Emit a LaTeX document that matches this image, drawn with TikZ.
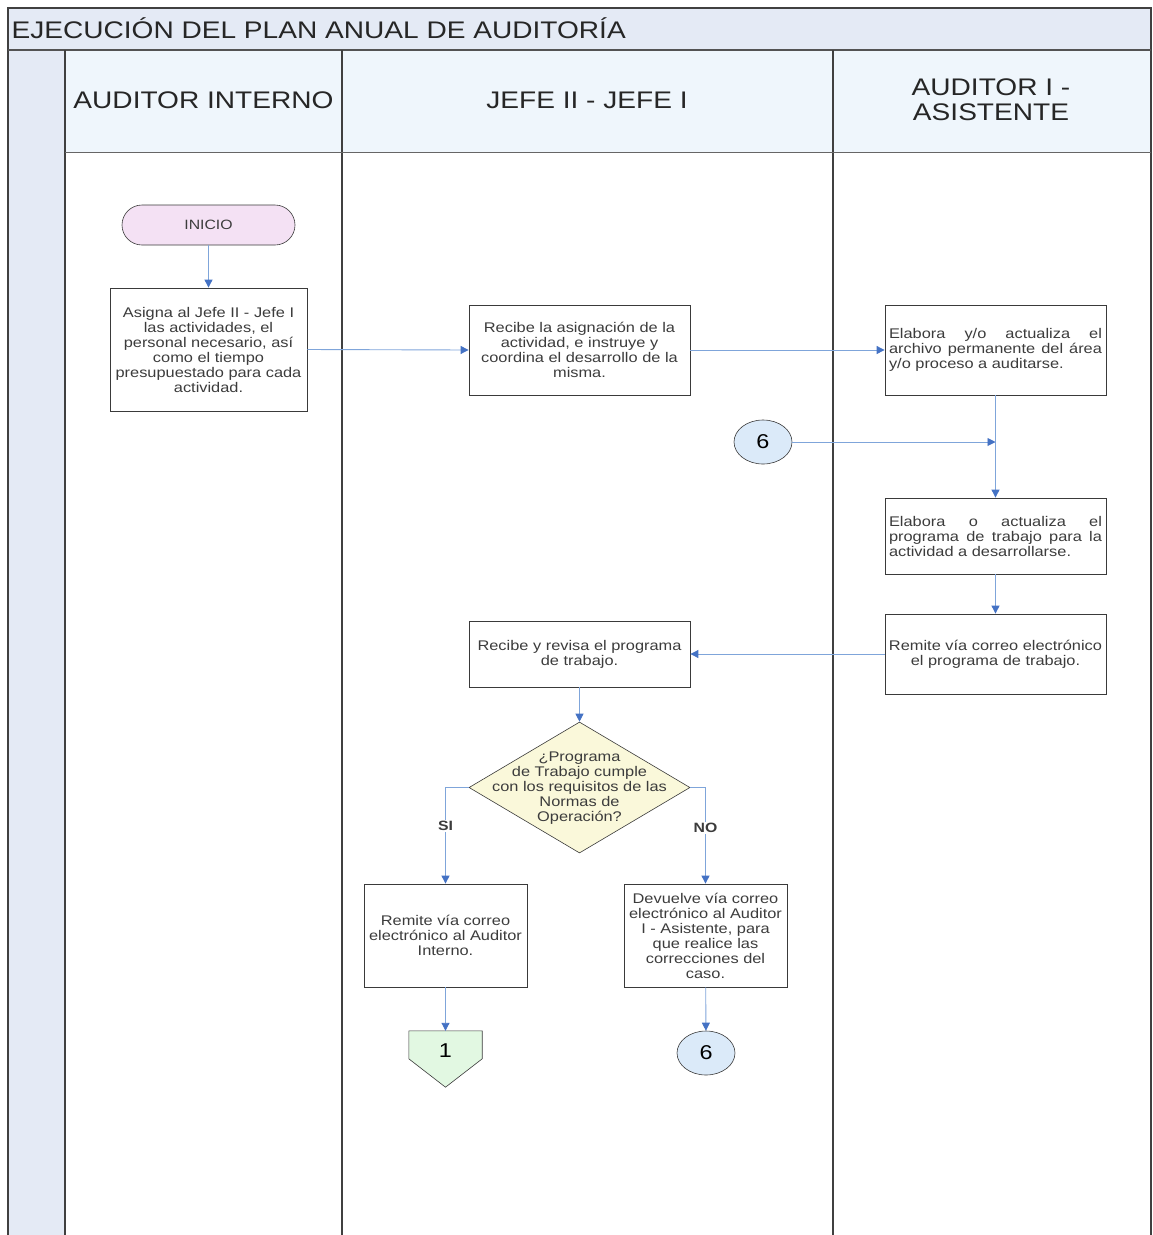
\documentclass[tikz,border=0pt]{standalone}
\usepackage{fontspec}
\setmainfont{Liberation Sans}[FakeStretch=1.17]
\usetikzlibrary{arrows.meta,shapes.geometric,calc}

\definecolor{titlebg}{HTML}{E4EAF5}
\definecolor{headbg}{HTML}{EFF6FC}
\definecolor{gridline}{HTML}{404040}
\definecolor{boxline}{HTML}{3A3A3A}
\definecolor{flowline}{HTML}{7FA5DA}
\definecolor{flowtip}{HTML}{4472C4}
\definecolor{startfill}{HTML}{F4E1F4}
\definecolor{decfill}{HTML}{FAF8DA}
\definecolor{refill}{HTML}{DBEAF9}
\definecolor{pagefill}{HTML}{E2F8E2}
\definecolor{txt}{HTML}{3C3C3C}

\tikzset{
  lane/.style={draw=gridline, line width=1.2pt},
  procbox/.style={draw=boxline, fill=white, line width=0.8pt, inner sep=3pt,
    align=center, text=txt, font=\fontsize{14}{15}\selectfont},
  flow/.style={draw=flowline, line width=0.9pt,
    -{Triangle[length=8pt,width=8pt,color=flowtip]}},
  refcircle/.style={ellipse, draw=boxline, fill=refill, line width=0.6pt,
    minimum width=58pt, minimum height=44pt, inner sep=0pt,
    font=\fontsize{20}{22}\selectfont},
  answer/.style={fill=white, inner sep=1pt, font=\bfseries\fontsize{13.5}{15}\selectfont, text=txt},
  headtext/.style={font=\fontsize{24}{26}\selectfont, align=center, text=black!85}
}

\begin{document}
\begin{tikzpicture}[x=1pt,y=-1pt]
\useasboundingbox (0,0) rectangle (1152,1235);

% swimlane frame
\fill[titlebg] (8,8) rectangle (1151,50);
\fill[titlebg] (8,50) rectangle (65,1240);
\fill[headbg] (65,50) rectangle (1151,152);
\draw[lane] (8,1240) -- (8,8) -- (1151,8) -- (1151,1240);
\draw[draw=gridline!90, line width=2pt] (8,50) -- (1151,50);
\draw[lane] (65,50) -- (65,1240);
\draw[lane] (342,50) -- (342,1240);
\draw[lane] (833,50) -- (833,1240);
\draw[draw=gridline!80, line width=1pt] (65,152) -- (1151,152);

\node[anchor=west, font=\fontsize{24}{26}\selectfont, text=black!85] (title) at (8,28)
  {EJECUCIÓN DEL PLAN ANUAL DE AUDITORÍA};
\node[headtext] (h1) at (203.5,100) {AUDITOR INTERNO};
\node[headtext] (h2) at (587,100) {JEFE II - JEFE I};
\node[headtext] (h3) at (991,100) {AUDITOR I -\\[-1pt]ASISTENTE};

% flow nodes
\node[draw=boxline, fill=startfill, line width=0.6pt, rounded corners=20pt,
  minimum width=173pt, minimum height=40pt, text=txt,
  font=\fontsize{13.5}{15}\selectfont] (ini) at (208.5,225) {INICIO};

\node[procbox, minimum width=197pt, minimum height=123pt] (A) at (208.5,349.5)
  {Asigna al Jefe II - Jefe I\\las actividades, el\\personal necesario, así\\como el tiempo\\presupuestado para cada\\actividad.};

\node[procbox, minimum width=221pt, minimum height=90pt] (B) at (579.5,350)
  {Recibe la asignación de la\\actividad, e instruye y\\coordina el desarrollo de la\\misma.};

\node[procbox, minimum width=221pt, minimum height=90pt, align=left] (C) at (995.5,350)
  {\makebox[213pt][s]{Elabora y/o actualiza el}\\\makebox[213pt][s]{archivo permanente del área}\\y/o proceso a auditarse.};

\node[refcircle] (r1) at (763,442) {6};
\coordinate (j) at (C.south |- r1.east);

\node[procbox, minimum width=221pt, minimum height=76pt, align=left] (D) at (995.5,536)
  {\makebox[213pt][s]{Elabora o actualiza el}\\\makebox[213pt][s]{programa de trabajo para la}\\actividad a desarrollarse.};

\node[procbox, minimum width=221pt, minimum height=80pt] (E) at (995.5,654)
  {Remite vía correo electrónico\\el programa de trabajo.};

\node[procbox, minimum width=221pt, minimum height=66pt] (F) at (579.5,654)
  {Recibe y revisa el programa\\de trabajo.};

\node[diamond, draw=boxline, fill=decfill, line width=0.6pt, aspect=1.69,
  minimum width=221pt, minimum height=131pt, inner sep=0pt] (Q) at (579.5,787.5) {};
\node[align=center, text=txt, font=\fontsize{14}{15}\selectfont] (Qt) at (579.5,788)
  {¿Programa\\de Trabajo cumple\\con los requisitos de las\\Normas de\\Operación?};

\node[procbox, minimum width=163pt, minimum height=103pt] (G) at (445.5,935.5)
  {Remite vía correo\\electrónico al Auditor\\Interno.};

\node[procbox, minimum width=163pt, minimum height=103pt] (H) at (705.5,935.5)
  {Devuelve vía correo\\electrónico al Auditor\\I - Asistente, para\\que realice las\\correcciones del\\caso.};

% off-page reference
\node[minimum width=73pt, minimum height=56pt, inner sep=0pt] (P) at (445.5,1059) {};
\draw[draw=boxline, fill=pagefill, line width=0.6pt]
  (P.north west) -- (P.north east) -- ($(P.north east)+(0,28)$) -- (P.south)
  -- ($(P.north west)+(0,28)$) -- cycle;
\node[font=\fontsize{20}{22}\selectfont] (Pt) at (445.5,1051) {1};

\node[refcircle] (r2) at (706,1053) {6};

% connectors
\draw[flow] (ini) -- (A);
\draw[flow] (A.east) -- (B.west);
\draw[flow] (B) -- (C);
\draw[flow] (r1) -- (j);
\draw[flow] (C) -- (D);
\draw[flow] (D) -- (E);
\draw[flow] (E) -- (F);
\draw[flow] (F) -- (Q);
\draw[flow] (Q.west) -| node[answer, pos=0.7] {SI} (G.north);
\draw[flow] (Q.east) -| node[answer, pos=0.71] {NO} (H.north);
\draw[flow] (G) -- (P.north);
\draw[flow] (H) -- (r2);
\end{tikzpicture}
\end{document}
